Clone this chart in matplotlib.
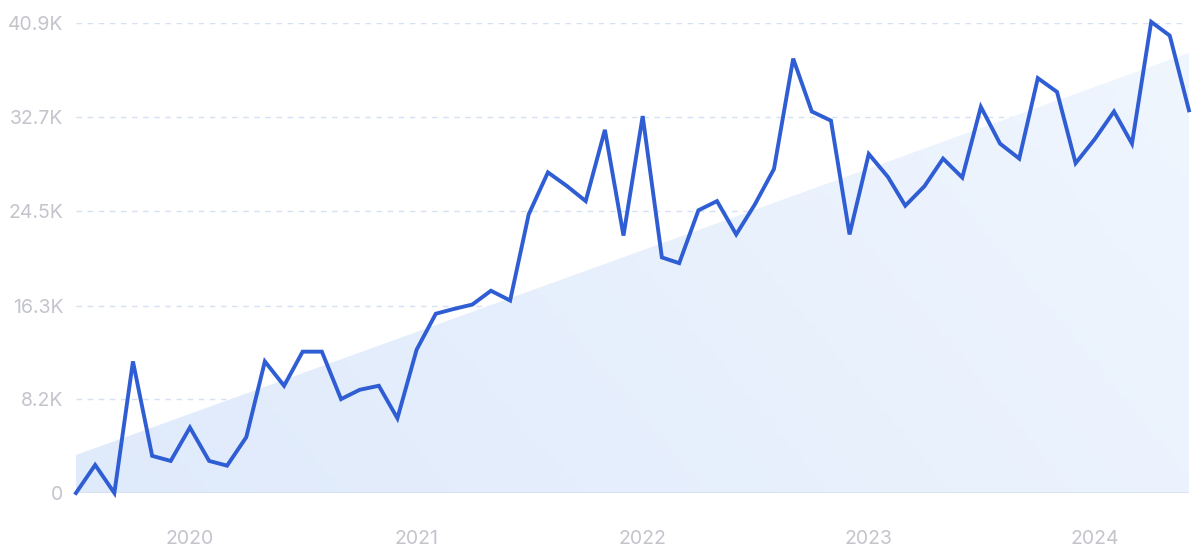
import numpy as np
import pandas as pd
import matplotlib
matplotlib.use("Agg")
import matplotlib.pyplot as plt
import matplotlib.dates as mdates
from matplotlib.ticker import FixedLocator

# --- Data (monthly, Jul 2019 - Jun 2024), values in thousands ---
months = pd.date_range("2019-07-01", periods=60, freq="MS")
values = [
    0.0, 2.44, 0.0, 11.45, 3.23, 2.79, 5.7, 2.79, 2.38, 4.86,
    11.45, 9.33, 12.3, 12.3, 8.17, 8.98, 9.33, 6.5, 12.47, 15.6,
    16.0, 16.4, 17.6, 16.75, 24.25, 27.9, 26.7, 25.4, 31.6, 22.4,
    32.8, 20.5, 20.0, 24.6, 25.4, 22.5, 25.1, 28.2, 37.8, 33.2,
    32.4, 22.5, 29.5, 27.5, 25.0, 26.7, 29.1, 27.45, 33.6, 30.4,
    29.1, 36.1, 34.9, 28.7, 30.8, 33.2, 30.4, 41.0, 39.8, 33.3,
]
trend_start, trend_end = 3.3, 38.3
y_ticks = [0, 8.2, 16.3, 24.5, 32.7, 40.9]
y_labels = ["0", "8.2K", "16.3K", "24.5K", "32.7K", "40.9K"]
x_ticks = pd.to_datetime(["2020-01-01", "2021-01-01", "2022-01-01", "2023-01-01", "2024-01-01"])
x_labels = ["2020", "2021", "2022", "2023", "2024"]

plt.rcParams["font.family"] = ["Inter", "DejaVu Sans"]

fig = plt.figure(figsize=(12, 5.58), dpi=100)
ax = fig.add_axes([0.0633, 0.1165, 0.9275, 0.8423])

x = mdates.date2num(months)
x0, x1 = x[0], x[-1]

# --- Trend area with soft gradient ---
poly = ax.fill_between([x0, x1], [0, 0], [trend_start, trend_end],
                       color="none", lw=0)
grad = np.linspace(0, 1, 256).reshape(1, -1)
grad = grad + np.linspace(0, 0.35, 64).reshape(-1, 1)
cmap = matplotlib.colors.LinearSegmentedColormap.from_list(
    "trend", ["#dfeafb", "#f0f6fe"])
img = ax.imshow(grad, extent=[x0, x1, 0, 41], aspect="auto",
                cmap=cmap, origin="lower", zorder=1)
img.set_clip_path(poly.get_paths()[0], transform=ax.transData)

# --- Main line ---
ax.plot(x, values, color="#2f5dd3", linewidth=2.8, zorder=3,
        solid_joinstyle="miter", clip_on=False)

# --- Grid / axes ---
for t in y_ticks[1:]:
    ax.plot([x0, x1 - 8], [t, t], color="#d6e0f3", lw=1,
            dashes=(4, 4), zorder=0)
ax.axhline(0, color="#d5e1f3", lw=1.2, zorder=2)

ax.set_xlim(x0, x1)
ax.set_ylim(0, 40.9)
ax.yaxis.set_major_locator(FixedLocator(y_ticks))
ax.set_yticklabels(y_labels)
ax.set_xticks(mdates.date2num(x_ticks))
ax.set_xticklabels(x_labels)
ax.tick_params(axis="y", length=0, pad=9, labelsize=14, labelcolor="#c3c4cc")
ax.tick_params(axis="x", length=0, pad=27, labelsize=14, labelcolor="#c3c4cc")
for s in ax.spines.values():
    s.set_visible(False)

fig.savefig("out.png", dpi=100)
